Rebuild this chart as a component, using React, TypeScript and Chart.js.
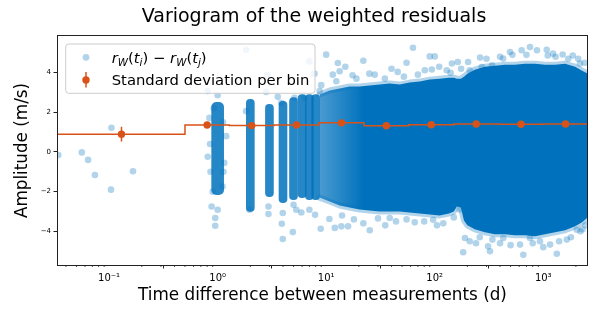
import React, { useEffect, useRef } from 'react';
import { Chart, registerables } from 'chart.js';

Chart.register(...registerables);

const FONT = 'DejaVu Sans';
const BLUE = 'rgb(0,114,189)';
const BLUE_LIGHT = 'rgba(0,114,189,0.3)';
const BLUE_EDGE = 'rgba(0,114,189,0.3)';
const BLUE_COL = 'rgba(0,114,189,0.85)';
const ORANGE = 'rgb(217,83,25)';

const TITLE = 'Variogram of the weighted residuals';
const X_LABEL = 'Time difference between measurements (d)';
const Y_LABEL = 'Amplitude (m/s)';
const LEGEND_STD = 'Standard deviation per bin';

const X_MIN = 0.0338;
const X_MAX = 2530;
const Y_MIN = -5.7;
const Y_MAX = 5.85;
const xTickValues = [0.1, 1, 10, 100, 1000];
const xTickLabels = ['10⁻¹', '10⁰', '10¹', '10²', '10³'];
const yTickValues = [-4, -2, 0, 2, 4];
const yTickLabels = ['−4', '−2', '0', '2', '4'];

// binned standard deviation (step line + markers + error bars)
const binEdges = [0.0338, 0.5, 1.28, 3.3, 8.6, 22.3, 57.6, 150, 388, 1000, 2600];
const binStd = [0.9, 1.36, 1.33, 1.36, 1.47, 1.32, 1.37, 1.41, 1.4, 1.41];
const binCenters = [0.13, 0.8, 2.06, 5.33, 13.85, 35.8, 93, 241, 623, 1606];
const binErr = [0.37, 0.05, 0.04, 0.04, 0.04, 0.03, 0.03, 0.02, 0.02, 0.02];

// dense stacks of residual differences at short integer lags
const colDays = [1, 2, 3, 4, 5, 6, 7, 8];
const colLow = [-2.15, -3.0, -2.25, -2.55, -2.4, -2.3, -2.4, -2.4];
const colHigh = [2.5, 2.65, 2.4, 2.55, 2.75, 2.9, 2.9, 2.9];

// envelope of the saturated cloud at long lags
const cloudDays = [8.69, 10.75, 13.3, 16.4, 20.3, 25.1, 31.1, 38.4, 47.5, 58.7, 72.7, 89.9, 111, 135, 150, 160, 174, 186, 200, 234, 290, 359, 444, 548, 679, 840, 1038, 1284, 1589, 1965, 2280, 2700];
const cloudHigh = [2.9, 3.1, 3.2, 3.3, 3.3, 3.35, 3.4, 3.45, 3.4, 3.5, 3.55, 3.65, 3.7, 3.75, 3.75, 3.7, 3.7, 3.8, 3.95, 4.15, 4.3, 4.35, 4.4, 4.4, 4.45, 4.45, 4.4, 4.4, 4.45, 4.3, 4.1, 3.9];
const cloudLow = [-2.3, -2.5, -2.7, -2.8, -2.9, -2.95, -3.0, -3.0, -3.0, -3.05, -3.1, -3.15, -3.2, -3.1, -3.0, -2.75, -2.8, -3.45, -3.7, -3.9, -4.05, -4.15, -4.15, -4.2, -4.2, -4.25, -4.15, -4.05, -3.95, -3.75, -3.55, -3.2];

// individual (sparse) residual differences
const dotDays = [
  0.034, 0.056, 0.064, 0.074, 0.104, 0.166, 0.105,
  0.81, 0.88, 1.0, 0.95, 0.95, 1.11, 1.15, 0.9, 0.81, 1.0, 0.84, 1.2, 0.85, 0.86, 1.12, 1.13, 0.92,
  1.83, 1.83, 1.96, 2.94, 2.94, 2.8, 2.88, 3.58, 3.85, 3.98, 3.9, 3.98, 4.93, 5.0, 5.1, 5.3,
  5.9, 6.3, 7.0, 7.0, 7.8, 7.9, 8.7, 8.9, 9.0, 10.0, 10.7, 12.0, 12.4, 12.8, 13.3, 13.8, 15.9, 17.5,
  25, 34.7, 45.6, 63, 81, 90, 94, 100, 129, 144, 163, 203, 210,
  25.2, 30, 38.5, 44, 65.5, 96.7, 120, 190, 183, 165, 170,
  262, 271, 337, 427, 494, 632, 755, 875, 1077, 1100, 1230, 1510, 1870, 2180, 2400,
  323, 310, 340, 428, 655, 611, 755, 933, 1156, 1333, 1649, 2040, 2300, 260,
  11.5, 15, 19, 22, 28, 40, 52, 55, 70, 110, 140, 175, 300, 400, 520, 700, 1300, 1700, 2100,
  14, 18, 22, 35, 55, 80, 105, 150, 210, 240, 400, 500, 800, 1000, 1400, 1800, 2200, 2450,
];
const dotValues = [
  -0.15, -0.02, -0.4, -1.16, -1.9, -0.97, 1.22,
  -0.24, -2.75, -2.91, -3.33, -3.72, -1.74, -0.55, -2.0, 3.07, 2.86, 1.72, 0.8, 0.4, -1.0, 1.5, -1.0, 2.2,
  5.16, 2.06, -2.91, -2.75, -3.13, 3.03, 3.88, 2.78, 2.48, -3.08, -3.62, -4.39, -4.04, -2.66, 2.73, -2.91,
  -3.05, 2.73, 4.57, -2.91, 3.95, -3.17, 3.07, -3.87, 3.37, 4.91, -3.38, -3.83, 3.57, 4.49, 4.07, -3.75, -3.75, 3.87,
  3.95, 3.7, 4.04, 5.26, 4.12, 4.82, 4.16, 4.82, 4.12, 4.46, 4.54, 4.54, 4.12,
  -3.95, -3.35, -3.33, -3.5, -3.55, -3.42, -3.6, -4.34, -5.06, -2.4, -2.9,
  4.76, 4.29, 4.37, 4.71, 5.04, 5.13, 5.29, 5.13, 5.16, 4.87, 4.96, 4.92, 4.87, 4.46, 4.5,
  -5.01, -4.76, -4.42, -4.34, -5.18, -4.67, -4.34, -4.5, -4.67, -5.13, -4.42, -3.92, -3.9, -4.3,
  3.9, 4.3, 3.7, 4.6, 3.9, 4.2, 3.8, 4.5, 3.9, 4.3, 4.0, 4.2, 4.7, 4.8, 4.9, 4.9, 4.8, 4.7, 4.7,
  -3.2, -3.4, -3.6, -3.7, -3.4, -3.5, -3.7, -3.3, -4.5, -4.6, -4.6, -4.7, -4.6, -4.8, -4.5, -4.3, -4.0, -3.7,
];

type Part = { t: string; it?: boolean; sub?: boolean };
const legendMath: Part[] = [
  { t: 'r', it: true }, { t: 'W', it: true, sub: true }, { t: '(' }, { t: 't', it: true }, { t: 'i', it: true, sub: true }, { t: ')' },
  { t: ' − ' },
  { t: 'r', it: true }, { t: 'W', it: true, sub: true }, { t: '(' }, { t: 't', it: true }, { t: 'j', it: true, sub: true }, { t: ')' },
];

const decorPlugin = {
  id: 'decor',
  afterDatasetsDraw(chart: any) {
    const { ctx, chartArea: a, scales } = chart;
    const xs = scales.x;
    const ys = scales.y;
    ctx.save();
    ctx.strokeStyle = ORANGE;
    ctx.lineWidth = 1.5;
    for (let i = 0; i < binCenters.length; i++) {
      const px = xs.getPixelForValue(binCenters[i]);
      ctx.beginPath();
      ctx.moveTo(px, ys.getPixelForValue(binStd[i] - binErr[i]));
      ctx.lineTo(px, ys.getPixelForValue(binStd[i] + binErr[i]));
      ctx.stroke();
    }
    ctx.strokeStyle = '#222';
    ctx.lineWidth = 0.8;
    for (let k = -2; k <= 3; k++) {
      for (let m = 2; m <= 9; m++) {
        const v = m * Math.pow(10, k);
        if (v < X_MIN || v > X_MAX) continue;
        const px = xs.getPixelForValue(v);
        ctx.beginPath();
        ctx.moveTo(px, a.bottom);
        ctx.lineTo(px, a.bottom + 2);
        ctx.stroke();
      }
    }
    ctx.strokeStyle = '#222';
    ctx.lineWidth = 1;
    ctx.strokeRect(a.left - 0.5, a.top - 0.5, a.right - a.left + 1, a.bottom - a.top + 1);
    ctx.restore();
  },
  afterDraw(chart: any) {
    const { ctx } = chart;
    ctx.save();
    ctx.fillStyle = '#000';
    ctx.font = `19px ${FONT}`;
    ctx.textAlign = 'center';
    ctx.textBaseline = 'alphabetic';
    ctx.fillText(TITLE, 314, 21.7);

    const bx = 65.7, by = 44, bw = 249.3, bh = 49.3, r = 3;
    ctx.beginPath();
    ctx.moveTo(bx + r, by);
    ctx.lineTo(bx + bw - r, by);
    ctx.quadraticCurveTo(bx + bw, by, bx + bw, by + r);
    ctx.lineTo(bx + bw, by + bh - r);
    ctx.quadraticCurveTo(bx + bw, by + bh, bx + bw - r, by + bh);
    ctx.lineTo(bx + r, by + bh);
    ctx.quadraticCurveTo(bx, by + bh, bx, by + bh - r);
    ctx.lineTo(bx, by + r);
    ctx.quadraticCurveTo(bx, by, bx + r, by);
    ctx.closePath();
    ctx.fillStyle = 'rgba(255,255,255,0.8)';
    ctx.fill();
    ctx.strokeStyle = '#cccccc';
    ctx.lineWidth = 1;
    ctx.stroke();

    ctx.fillStyle = BLUE_LIGHT;
    ctx.beginPath();
    ctx.arc(86, 57.3, 3.4, 0, Math.PI * 2);
    ctx.fill();
    ctx.fillStyle = '#000';
    ctx.textAlign = 'left';
    const size = 14.8;
    let cx = 111.7;
    const base1 = 63;
    for (const p of legendMath) {
      const s = p.sub ? size * 0.7 : size;
      ctx.font = `${p.it ? 'italic ' : ''}${s}px ${FONT}`;
      ctx.fillText(p.t, cx, base1 + (p.sub ? size * 0.22 : 0));
      cx += ctx.measureText(p.t).width;
    }
    ctx.strokeStyle = ORANGE;
    ctx.lineWidth = 1.5;
    ctx.beginPath();
    ctx.moveTo(86, 72);
    ctx.lineTo(86, 87.5);
    ctx.stroke();
    ctx.fillStyle = ORANGE;
    ctx.beginPath();
    ctx.arc(86, 80, 3.7, 0, Math.PI * 2);
    ctx.fill();
    ctx.fillStyle = '#000';
    ctx.font = `${size}px ${FONT}`;
    ctx.fillText(LEGEND_STD, 111.7, 85);
    ctx.restore();
  },
};

const cloudFill = (c: any) => {
  const chart = c.chart;
  const xs = chart.scales && chart.scales.x;
  if (!chart.chartArea || !xs) return BLUE;
  const g = chart.ctx.createLinearGradient(xs.getPixelForValue(9), 0, xs.getPixelForValue(22), 0);
  g.addColorStop(0, 'rgba(0,114,189,0.72)');
  g.addColorStop(1, BLUE);
  return g;
};

export default function App() {
  const ref = useRef<HTMLCanvasElement>(null);
  useEffect(() => {
    const canvas = ref.current;
    if (!canvas) return;
    const dots = dotDays.map((d, i) => ({ x: d, y: dotValues[i] }));
    const stepPts = binEdges.map((e, i) => ({ x: e, y: binStd[Math.min(i, binStd.length - 1)] }));
    const cols = colDays.map((d, i) => ({ x: d, y: [colLow[i], colHigh[i]] }));
    const barBase = { type: 'bar', stack: 'cols', borderSkipped: false, grouped: true };
    const chart = new Chart(canvas, {
      type: 'scatter',
      data: {
        datasets: [
          {
            type: 'scatter',
            label: 'Standard deviation per bin',
            data: binCenters.map((c, i) => ({ x: c, y: binStd[i] })),
            pointRadius: 3.7,
            pointBackgroundColor: ORANGE,
            pointBorderWidth: 0,
            order: 0,
          },
          {
            type: 'line',
            label: 'std step',
            data: stepPts,
            stepped: 'before',
            borderColor: ORANGE,
            borderWidth: 1.5,
            pointRadius: 0,
            fill: false,
            order: 1,
          },
          {
            type: 'scatter',
            label: 'residual differences',
            data: dots,
            pointRadius: 3.3,
            pointBackgroundColor: BLUE_LIGHT,
            pointBorderWidth: 0,
            order: 2,
          },
          { ...barBase, label: 'stack core lag 1', data: cols.slice(0, 1), backgroundColor: BLUE_COL, barThickness: 12, borderRadius: 5, order: 3 },
          { ...barBase, label: 'stack core', data: cols.slice(1), backgroundColor: BLUE_COL, barThickness: 8, borderRadius: 4, order: 3 },
          {
            type: 'line',
            label: 'cloud low',
            data: cloudDays.map((d, i) => ({ x: d, y: cloudLow[i] })),
            borderColor: BLUE_EDGE,
            borderWidth: 6,
            borderJoinStyle: 'round',
            borderCapStyle: 'round',
            pointRadius: 0,
            fill: false,
            order: 5,
          },
          {
            type: 'line',
            label: 'cloud high',
            data: cloudDays.map((d, i) => ({ x: d, y: cloudHigh[i] })),
            borderColor: BLUE_EDGE,
            backgroundColor: cloudFill,
            borderWidth: 6,
            borderJoinStyle: 'round',
            borderCapStyle: 'round',
            pointRadius: 0,
            fill: '-1',
            order: 5,
          },
        ] as any,
      },
      options: {
        animation: false,
        responsive: false,
        devicePixelRatio: 1,
        layout: { padding: { left: 0, right: 5, top: 36, bottom: 0 } },
        plugins: {
          legend: { display: false },
          tooltip: { enabled: false },
          title: { display: false },
        },
        scales: {
          x: {
            type: 'logarithmic',
            position: 'bottom',
            min: X_MIN,
            max: X_MAX,
            afterBuildTicks: (s: any) => {
              s.ticks = xTickValues.map((v) => ({ value: v }));
            },
            afterFit: (s: any) => {
              s.height = 46;
            },
            ticks: {
              callback: (_v: any, i: number) => xTickLabels[i],
              font: { family: FONT, size: 10 },
              color: '#000',
              padding: 4,
              maxRotation: 0,
              autoSkip: false,
            },
            grid: { display: true, drawOnChartArea: false, drawTicks: true, tickLength: 3.5, tickColor: '#222', tickWidth: 1 },
            border: { display: false },
            title: { display: true, text: X_LABEL, color: '#000', font: { family: FONT, size: 16.8 }, padding: { top: 0, bottom: 4.9 } },
          },
          y: {
            type: 'linear',
            min: Y_MIN,
            max: Y_MAX,
            afterBuildTicks: (s: any) => {
              s.ticks = yTickValues.map((v) => ({ value: v }));
            },
            afterFit: (s: any) => {
              s.width = 58;
            },
            ticks: {
              callback: (_v: any, i: number) => yTickLabels[i],
              font: { family: FONT, size: 7 },
              color: '#000',
              padding: 2.5,
            },
            grid: { display: true, drawOnChartArea: false, drawTicks: true, tickLength: 4.5, tickColor: '#222', tickWidth: 1 },
            border: { display: false },
            title: { display: true, text: Y_LABEL, color: '#000', font: { family: FONT, size: 16.8 }, padding: { top: 12.5, bottom: 0 } },
          },
        },
      } as any,
      plugins: [decorPlugin],
    });
    return () => chart.destroy();
  }, []);
  return (
    <div style={{ position: 'absolute', left: 0, top: 0, width: 592, height: 311 }}>
      <canvas ref={ref} width={592} height={311} style={{ display: 'block' }} />
    </div>
  );
}
